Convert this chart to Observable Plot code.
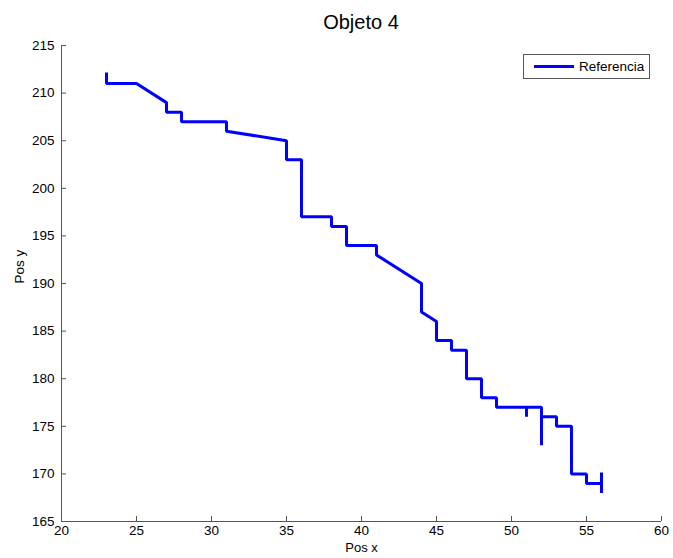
<!DOCTYPE html>
<html>
<head>
<meta charset="utf-8">
<script src="https://cdn.jsdelivr.net/npm/d3@7"></script>
<script src="https://cdn.jsdelivr.net/npm/@observablehq/plot@0.6"></script>
<style>
  html, body { margin: 0; padding: 0; background: #fff; }
  #wrap { position: relative; width: 673px; height: 558px; font-family: "Liberation Sans", Arial, sans-serif; }
  #title { position: absolute; left: 61px; width: 600px; top: 11px; text-align: center; font-size: 20px; color: #000; }
  #legend { position: absolute; left: 523px; top: 54px; width: 127px; height: 25px; border: 1px solid #555; background: #fff; box-sizing: border-box; }
  #legend .sw { position: absolute; left: 10px; top: 10px; width: 40px; height: 3px; background: #0000ff; }
  #legend .lb { position: absolute; left: 55px; top: 4px; font-size: 13.5px; color: #000; }
</style>
</head>
<body>
<div id="wrap">
  <div id="chart"></div>
  <div id="title">Objeto 4</div>
  <div id="legend"><div class="sw"></div><div class="lb">Referencia</div></div>
</div>
<script>
const posX = [23, 23, 25, 27, 27, 28, 28, 31, 31, 35, 35, 36, 36, 38, 38, 39, 39, 41, 41, 44, 44, 45, 45, 46, 46, 47, 47, 48, 48, 49, 49, 51, 51, 51, 52, 52, 52, 53, 53, 54, 54, 55, 55, 56, 56, 56];
const posY = [212, 211, 211, 209, 208, 208, 207, 207, 206, 205, 203, 203, 197, 197, 196, 196, 194, 194, 193, 190, 187, 186, 184, 184, 183, 183, 180, 180, 178, 178, 177, 177, 176, 177, 177, 173, 176, 176, 175, 175, 170, 170, 169, 169, 168, 170];
const xTicks = [20, 25, 30, 35, 40, 45, 50, 55, 60];
const yTicks = [165, 170, 175, 180, 185, 190, 195, 200, 205, 210, 215];
const xLabel = "Pos x";
const yLabel = "Pos y";

const data = posX.map((x, i) => ({x, y: posY[i]}));

const chart = Plot.plot({
  width: 673,
  height: 558,
  marginLeft: 61,
  marginRight: 12,
  marginTop: 45,
  marginBottom: 37,
  style: {fontFamily: "Liberation Sans, Arial, sans-serif", fontSize: "13px", color: "#000", background: "#fff"},
  x: {domain: [20, 60]},
  y: {domain: [165, 215]},
  marks: [
    Plot.ruleY([165], {stroke: "#555"}),
    Plot.ruleX([20], {stroke: "#555"}),
    Plot.axisX({ticks: xTicks, tickSize: -5, tickPadding: 9, stroke: "#555", label: null, fontSize: 13.5, color: "#000"}),
    Plot.axisY({ticks: yTicks, tickSize: -5, tickPadding: 12, stroke: "#555", label: null, fontSize: 13.5, color: "#000"}),
    Plot.text([xLabel], {frameAnchor: "bottom", dy: 30, fontSize: 13, fill: "#000"}),
    Plot.text([yLabel], {frameAnchor: "left", dx: -42, rotate: -90, fontSize: 13.5, fill: "#000"}),
    Plot.line(data, {x: "x", y: "y", stroke: "#0000ff", strokeWidth: 3, strokeLinejoin: "miter", strokeLinecap: "square", curve: "linear"})
  ]
});
document.getElementById("chart").appendChild(chart);
</script>
</body>
</html>
